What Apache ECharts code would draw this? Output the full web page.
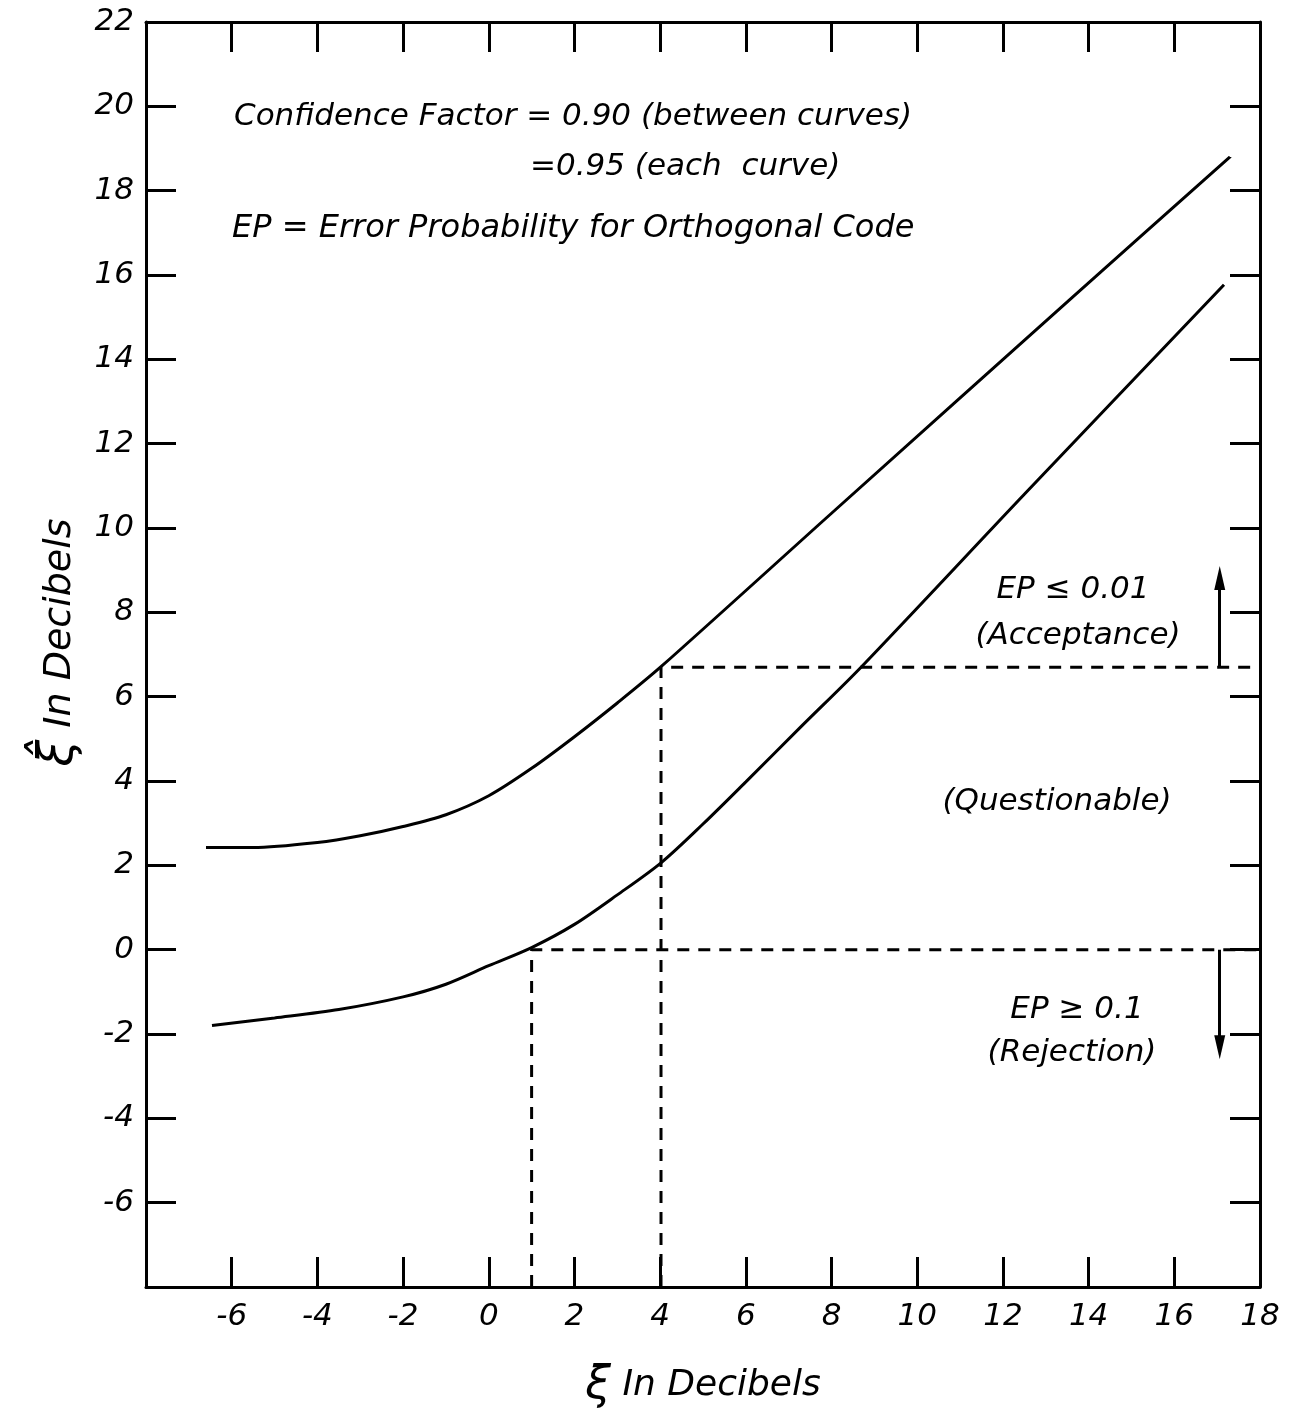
<!DOCTYPE html>
<html>
<head>
<meta charset="utf-8">
<script src="https://cdn.jsdelivr.net/npm/echarts@6/dist/echarts.min.js"></script>
<style>
  html, body { margin: 0; padding: 0; background: #fff; }
  #chart { width: 1290px; height: 1415px; }
</style>
</head>
<body>
<div id="chart"></div>
<script>
// upper curve (0.95 bound)
const upperX = [-6.6, -5.5, -4, -3, -2, -1, 0, 1, 2, 3, 4.02, 8, 13.6, 17.3]
const upperY = [2.42, 2.42, 2.54, 2.7, 2.92, 3.2, 3.65, 4.3, 5.05, 5.85, 6.71, 10.35, 15.45, 18.8]
// lower curve
const lowerX = [-6.46, -5, -3.5, -2, -1, 0, 1, 2, 3, 4.02, 5, 6, 7.3, 8.7, 12.5, 17.16]
const lowerY = [-1.8, -1.62, -1.42, -1.12, -0.82, -0.38, 0.05, 0.6, 1.3, 2.06, 2.98, 3.98, 5.3, 6.71, 10.8, 15.77]

// threshold lines
const acceptXi = 4.02
const acceptLevel = 6.7
const rejectXi = 1
const rejectLevel = 0
const arrowX = 17.06
const upArrow = [6.7, 9.1]
const downArrow = [0, -2.6]

const xMin = -8, xMax = 18, yMin = -8, yMax = 22

const FONT = 'DejaVu Sans'
const pairs = (xs, ys) => xs.map((x, i) => [x, ys[i]])

const chart = echarts.init(document.getElementById('chart'))

const axisCommon = {
  type: 'value',
  interval: 2,
  axisLine: { show: true, onZero: false, lineStyle: { color: '#000', width: 3 } },
  axisTick: { show: true, inside: true, length: 30, lineStyle: { color: '#000', width: 3 } },
  splitLine: { show: false },
}

const textStyle = { fill: '#000', font: 'italic 31px "DejaVu Sans"' }

const option = {
  backgroundColor: '#fff',
  animation: false,
  grid: { left: 146, right: 30, top: 22, bottom: 128 },
  xAxis: [
    {
      ...axisCommon,
      min: xMin,
      max: xMax,
      position: 'bottom',
      name: '{xi|ξ} In Decibels',
      nameLocation: 'middle',
      nameGap: 76,
      nameTextStyle: {
        fontFamily: FONT, fontStyle: 'italic', fontSize: 36, color: '#000',
        rich: { xi: { fontFamily: FONT, fontStyle: 'italic', fontSize: 46, color: '#000' } },
      },
      axisLabel: {
        margin: 14,
        fontFamily: FONT, fontStyle: 'italic', fontSize: 31, color: '#000',
        formatter: (v) => (v === xMin ? '' : String(v)),
      },
    },
    {
      ...axisCommon,
      min: xMin,
      max: xMax,
      position: 'top',
      axisLabel: { show: false },
    },
  ],
  yAxis: [
    {
      ...axisCommon,
      min: yMin,
      max: yMax,
      position: 'left',
      name: '{xi|ξ̂} In Decibels',
      nameLocation: 'middle',
      nameRotate: 90,
      nameGap: 14,
      nameTextStyle: {
        fontFamily: FONT, fontStyle: 'italic', fontSize: 38, color: '#000',
        padding: [0, 0, 0, 24],
        rich: { xi: { fontFamily: FONT, fontStyle: 'italic', fontSize: 48, color: '#000' } },
      },
      axisLabel: {
        margin: 12,
        fontFamily: FONT, fontStyle: 'italic', fontSize: 31, color: '#000',
        formatter: (v) => (v === yMin ? '' : String(v)),
      },
    },
    {
      ...axisCommon,
      min: yMin,
      max: yMax,
      position: 'right',
      axisLabel: { show: false },
    },
  ],
  series: [
    {
      type: 'line',
      data: pairs(upperX, upperY),
      smooth: 0.3,
      showSymbol: false,
      lineStyle: { color: '#000', width: 3 },
    },
    {
      type: 'line',
      data: pairs(lowerX, lowerY),
      smooth: 0.3,
      showSymbol: false,
      lineStyle: { color: '#000', width: 3 },
    },
    {
      type: 'line',
      data: [[acceptXi, yMin], [acceptXi, acceptLevel], [xMax, acceptLevel]],
      showSymbol: false,
      lineStyle: { color: '#000', width: 3, type: [12, 9] },
    },
    {
      type: 'line',
      data: [[rejectXi, yMin], [rejectXi, rejectLevel], [xMax, rejectLevel]],
      showSymbol: false,
      lineStyle: { color: '#000', width: 3, type: [12, 9] },
    },
    {
      type: 'lines',
      coordinateSystem: 'cartesian2d',
      data: [
        { coords: [[arrowX, upArrow[0]], [arrowX, upArrow[1] - 0.4]] },
        { coords: [[arrowX, downArrow[0]], [arrowX, downArrow[1] + 0.4]] },
      ],
      lineStyle: { color: '#000', width: 3, opacity: 1 },
    },
    {
      type: 'scatter',
      data: [[arrowX, upArrow[1]]],
      symbol: 'triangle',
      symbolSize: [11, 24],
      symbolOffset: [0, '50%'],
      itemStyle: { color: '#000', opacity: 1 },
    },
    {
      type: 'scatter',
      data: [[arrowX, downArrow[1]]],
      symbol: 'triangle',
      symbolSize: [11, 24],
      symbolRotate: 180,
      symbolOffset: [0, '-50%'],
      itemStyle: { color: '#000', opacity: 1 },
    },
  ],
  graphic: [
    { type: 'text', left: 234, top: 101, style: { ...textStyle, text: 'Confidence Factor = 0.90 (between curves)' } },
    { type: 'text', left: 530, top: 151, style: { ...textStyle, text: '=0.95 (each  curve)' } },
    { type: 'text', left: 232, top: 213, style: { ...textStyle, font: 'italic 32px "DejaVu Sans"', text: 'EP = Error Probability for Orthogonal Code' } },
    { type: 'text', x: 1073, y: 590, style: { ...textStyle, text: 'EP ≤ 0.01', align: 'center', verticalAlign: 'middle' } },
    { type: 'text', x: 1078, y: 636, style: { ...textStyle, text: '(Acceptance)', align: 'center', verticalAlign: 'middle' } },
    { type: 'text', x: 1057, y: 802, style: { ...textStyle, text: '(Questionable)', align: 'center', verticalAlign: 'middle' } },
    { type: 'text', x: 1077, y: 1010, style: { ...textStyle, text: 'EP ≥ 0.1', align: 'center', verticalAlign: 'middle' } },
    { type: 'text', x: 1072, y: 1053, style: { ...textStyle, text: '(Rejection)', align: 'center', verticalAlign: 'middle' } },
  ],
}

chart.setOption(option)
</script>
</body>
</html>
